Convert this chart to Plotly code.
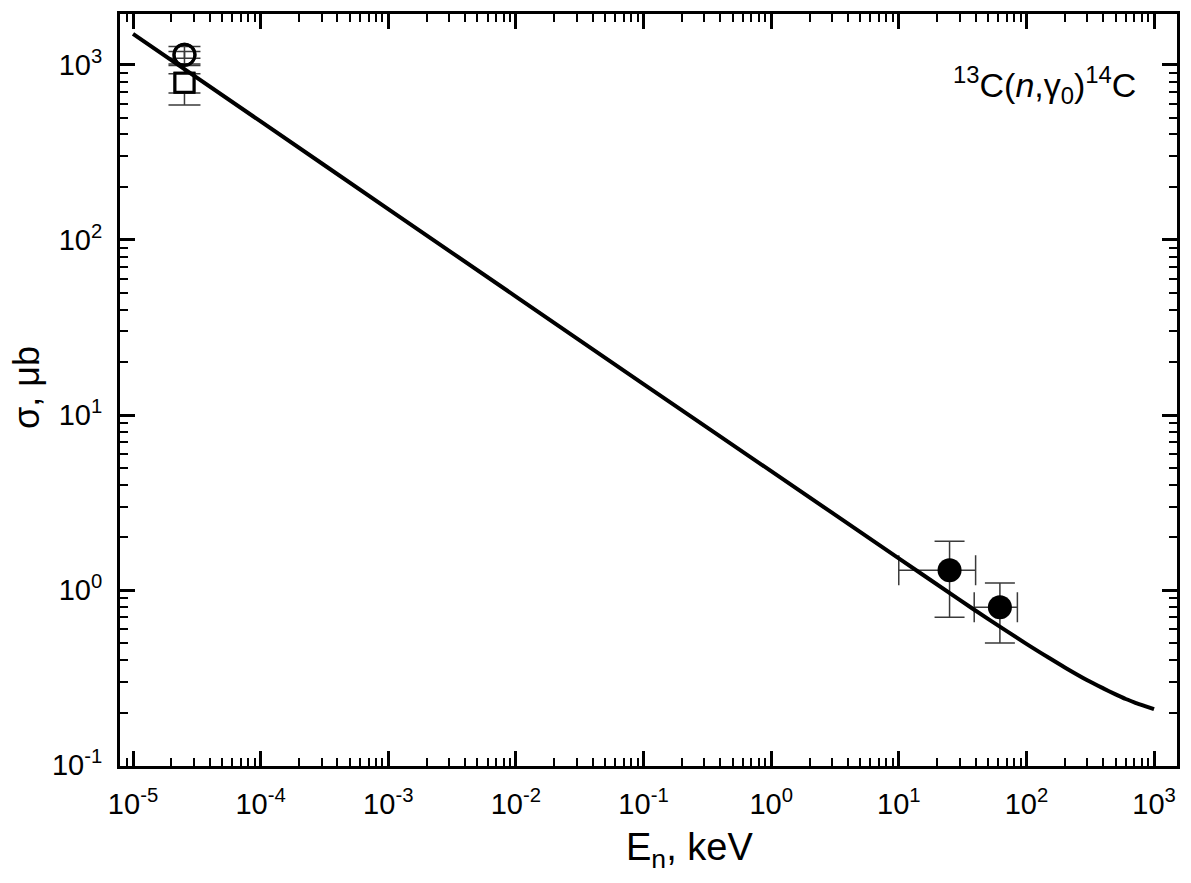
import plotly.graph_objects as go

# Model curve
curve_E = [1e-5, 1e-4, 1e-3, 1e-2, 1e-1, 1, 10, 30, 50, 100, 150, 200, 300, 400, 500, 600, 700, 850, 1000]
curve_sigma = [1500, 475, 150, 47.5, 15.0, 4.78, 1.52, 0.88, 0.685, 0.494, 0.411, 0.362, 0.306,
               0.275, 0.254, 0.239, 0.229, 0.218, 0.209]

# Thermal data points
thermal_E = [2.53e-5]
circle_sigma = [1140]
circle_err_a = [130]
circle_err_b = [50]
square_sigma = [790]
square_err_a = [200]
square_err_b = [100]

# keV data points
kev_E = [25, 62]
kev_E_err = [15, 23]
kev_sigma = [1.3, 0.8]
kev_sigma_err = [0.6, 0.3]

x_tickvals = [1e-5, 1e-4, 1e-3, 1e-2, 1e-1, 1, 10, 100, 1000]
x_ticktext = ["10<sup>-5</sup>", "10<sup>-4</sup>", "10<sup>-3</sup>", "10<sup>-2</sup>",
              "10<sup>-1</sup>", "10<sup>0</sup>", "10<sup>1</sup>", "10<sup>2</sup>", "10<sup>3</sup>"]
y_tickvals = [0.1, 1, 10, 100, 1000]
y_ticktext = ["10<sup>-1</sup>", "10<sup>0</sup>", "10<sup>1</sup>", "10<sup>2</sup>", "10<sup>3</sup>"]

FONT = "Liberation Sans, Arial, sans-serif"
ERRC = "#3a3a3a"

fig = go.Figure()

# squares (two error bar sets)
for err in (square_err_a, square_err_b):
    fig.add_trace(go.Scatter(
        x=thermal_E, y=square_sigma, mode="markers",
        marker=dict(symbol="square", size=19, color="white", line=dict(color="black", width=3)),
        error_y=dict(type="data", array=err, color=ERRC, thickness=1.5, width=16),
        showlegend=False))

# open circles (two error bar sets)
for err in (circle_err_a, circle_err_b):
    fig.add_trace(go.Scatter(
        x=thermal_E, y=circle_sigma, mode="markers",
        marker=dict(symbol="circle-open", size=21, color="black", line=dict(color="black", width=3)),
        error_y=dict(type="data", array=err, color=ERRC, thickness=1.5, width=16),
        showlegend=False))

# filled circles
fig.add_trace(go.Scatter(
    x=kev_E, y=kev_sigma, mode="markers",
    marker=dict(symbol="circle", size=24, color="black"),
    error_y=dict(type="data", array=kev_sigma_err, color=ERRC, thickness=1.5, width=15),
    error_x=dict(type="data", array=kev_E_err, color=ERRC, thickness=1.5, width=15),
    showlegend=False))

# curve
fig.add_trace(go.Scatter(
    x=curve_E, y=curve_sigma, mode="lines",
    line=dict(color="black", width=4, shape="spline", smoothing=0.8),
    showlegend=False))

minor_vals = [m * 10.0 ** k for k in range(-6, 4) for m in range(2, 10)]

axis_common = dict(
    type="log", showgrid=False, zeroline=False,
    showline=True, linecolor="black", linewidth=3, mirror="allticks",
    ticks="inside", ticklen=15, tickwidth=2.5, tickcolor="black",
    tickfont=dict(family=FONT, size=29, color="black"),
    tickmode="array",
    minor=dict(ticks="inside", ticklen=8, tickwidth=2, tickcolor="black",
               tickmode="array", tickvals=minor_vals, showgrid=False),
)

fig.update_xaxes(**axis_common, range=[-5.102, 3.18], tickvals=x_tickvals, ticktext=x_ticktext,
                 ticklabelstandoff=10)
fig.update_yaxes(**axis_common, range=[-1.004, 3.29], tickvals=y_tickvals, ticktext=y_ticktext,
                 ticklabelstandoff=9)

fig.add_annotation(
    text="<sup>13</sup>C(<i>n</i>,γ<sub>0</sub>)<sup>14</sup>C",
    xref="paper", yref="paper", x=0.786, y=0.905, xanchor="left", yanchor="middle",
    showarrow=False, font=dict(family=FONT, size=34, color="black"))

fig.add_annotation(
    text="E<sub>n</sub>, keV",
    xref="paper", yref="paper", x=0.5387, y=-0.112, xanchor="center", yanchor="middle",
    showarrow=False, font=dict(family=FONT, size=38, color="black"))

fig.add_annotation(
    text="σ, μb", textangle=-90,
    xref="paper", yref="paper", x=-0.088, y=0.504, xanchor="center", yanchor="middle",
    showarrow=False, font=dict(family=FONT, size=36, color="black"))

fig.update_layout(
    width=1191, height=883,
    margin=dict(l=120, r=11, t=12, b=117),
    paper_bgcolor="white", plot_bgcolor="white",
    showlegend=False,
)

fig.write_html("out.html")
